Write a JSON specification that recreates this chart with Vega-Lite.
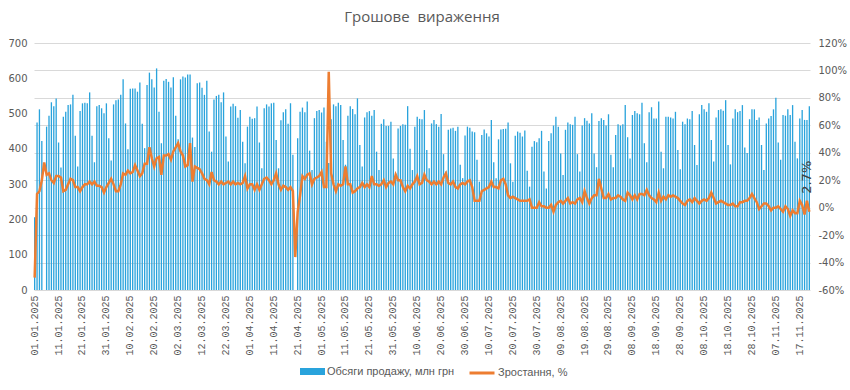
{
"$schema": "https://vega.github.io/schema/vega-lite/v6.json",
"width": 776, "height": 247,
"autosize": {"type": "none"},
"padding": {"left": 34, "top": 43, "right": 40, "bottom": 100},
"background": "white",
"title": {"text": "Грошове \u00a0вираження", "font": "Open Sans", "fontSize": 15, "fontWeight": "normal", "color": "#595959", "offset": 13, "anchor": "middle"},
"config": {"view": {"stroke": null}, "axis": {"labelFont": "DejaVu Sans", "labelFontSize": 10, "labelColor": "#595959", "ticks": false, "domain": false, "title": null}},
"data": {"values": [
{"d":"2025-01-01","v":206,"g":-51},{"d":"2025-01-02","v":475,"g":10},{"d":"2025-01-03","v":512,"g":12},{"d":"2025-01-04","v":422,"g":20},{"d":"2025-01-05","v":null,"g":33},{"d":"2025-01-06","v":463,"g":24},{"d":"2025-01-07","v":494,"g":25},{"d":"2025-01-08","v":532,"g":20},{"d":"2025-01-09","v":521,"g":18},{"d":"2025-01-10","v":543,"g":23},
{"d":"2025-01-11","v":418,"g":23},{"d":"2025-01-12","v":347,"g":22},{"d":"2025-01-13","v":491,"g":12},{"d":"2025-01-14","v":505,"g":13},{"d":"2025-01-15","v":524,"g":17},{"d":"2025-01-16","v":526,"g":21},{"d":"2025-01-17","v":553,"g":20},{"d":"2025-01-18","v":437,"g":15},{"d":"2025-01-19","v":350,"g":15},{"d":"2025-01-20","v":507,"g":12},
{"d":"2025-01-21","v":529,"g":15},{"d":"2025-01-22","v":531,"g":17},{"d":"2025-01-23","v":529,"g":17},{"d":"2025-01-24","v":560,"g":19},{"d":"2025-01-25","v":437,"g":17},{"d":"2025-01-26","v":362,"g":19},{"d":"2025-01-27","v":521,"g":16},{"d":"2025-01-28","v":524,"g":16},{"d":"2025-01-29","v":515,"g":15},{"d":"2025-01-30","v":501,"g":11},
{"d":"2025-01-31","v":529,"g":15},{"d":"2025-02-01","v":430,"g":18},{"d":"2025-02-02","v":367,"g":21},{"d":"2025-02-03","v":526,"g":17},{"d":"2025-02-04","v":538,"g":12},{"d":"2025-02-05","v":540,"g":12},{"d":"2025-02-06","v":553,"g":17},{"d":"2025-02-07","v":597,"g":25},{"d":"2025-02-08","v":472,"g":24},{"d":"2025-02-09","v":399,"g":27},
{"d":"2025-02-10","v":570,"g":25},{"d":"2025-02-11","v":571,"g":26},{"d":"2025-02-12","v":571,"g":31},{"d":"2025-02-13","v":562,"g":27},{"d":"2025-02-14","v":588,"g":23},{"d":"2025-02-15","v":471,"g":25},{"d":"2025-02-16","v":402,"g":32},{"d":"2025-02-17","v":581,"g":32},{"d":"2025-02-18","v":616,"g":44},{"d":"2025-02-19","v":597,"g":36},
{"d":"2025-02-20","v":574,"g":30},{"d":"2025-02-21","v":628,"g":36},{"d":"2025-02-22","v":505,"g":37},{"d":"2025-02-23","v":416,"g":24},{"d":"2025-02-24","v":593,"g":38},{"d":"2025-02-25","v":598,"g":38},{"d":"2025-02-26","v":590,"g":39},{"d":"2025-02-27","v":574,"g":35},{"d":"2025-02-28","v":603,"g":41},
{"d":"2025-03-01","v":494,"g":44},{"d":"2025-03-02","v":427,"g":47},{"d":"2025-03-03","v":597,"g":41},{"d":"2025-03-04","v":605,"g":38},{"d":"2025-03-05","v":602,"g":30},{"d":"2025-03-06","v":611,"g":31},{"d":"2025-03-07","v":611,"g":47},{"d":"2025-03-08","v":432,"g":19},{"d":"2025-03-09","v":405,"g":30},{"d":"2025-03-10","v":586,"g":29},
{"d":"2025-03-11","v":588,"g":28},{"d":"2025-03-12","v":573,"g":25},{"d":"2025-03-13","v":553,"g":21},{"d":"2025-03-14","v":593,"g":20},{"d":"2025-03-15","v":449,"g":17},{"d":"2025-03-16","v":392,"g":26},{"d":"2025-03-17","v":540,"g":20},{"d":"2025-03-18","v":550,"g":19},{"d":"2025-03-19","v":553,"g":17},{"d":"2025-03-20","v":532,"g":19},
{"d":"2025-03-21","v":560,"g":17},{"d":"2025-03-22","v":435,"g":18},{"d":"2025-03-23","v":364,"g":19},{"d":"2025-03-24","v":520,"g":17},{"d":"2025-03-25","v":528,"g":19},{"d":"2025-03-26","v":521,"g":17},{"d":"2025-03-27","v":488,"g":18},{"d":"2025-03-28","v":510,"g":17},{"d":"2025-03-29","v":420,"g":18},{"d":"2025-03-30","v":359,"g":23},
{"d":"2025-03-31","v":463,"g":14},{"d":"2025-04-01","v":491,"g":17},{"d":"2025-04-02","v":485,"g":17},{"d":"2025-04-03","v":487,"g":13},{"d":"2025-04-04","v":520,"g":17},{"d":"2025-04-05","v":418,"g":13},{"d":"2025-04-06","v":345,"g":17},{"d":"2025-04-07","v":515,"g":21},{"d":"2025-04-08","v":526,"g":22},{"d":"2025-04-09","v":520,"g":20},
{"d":"2025-04-10","v":529,"g":17},{"d":"2025-04-11","v":531,"g":20},{"d":"2025-04-12","v":425,"g":25},{"d":"2025-04-13","v":345,"g":17},{"d":"2025-04-14","v":481,"g":13},{"d":"2025-04-15","v":504,"g":16},{"d":"2025-04-16","v":512,"g":15},{"d":"2025-04-17","v":471,"g":13},{"d":"2025-04-18","v":529,"g":15},{"d":"2025-04-19","v":383,"g":12},
{"d":"2025-04-20","v":null,"g":-36},{"d":"2025-04-21","v":430,"g":-3},{"d":"2025-04-22","v":505,"g":9},{"d":"2025-04-23","v":517,"g":23},{"d":"2025-04-24","v":504,"g":21},{"d":"2025-04-25","v":534,"g":24},{"d":"2025-04-26","v":395,"g":25},{"d":"2025-04-27","v":340,"g":17},{"d":"2025-04-28","v":487,"g":21},{"d":"2025-04-29","v":507,"g":22},
{"d":"2025-04-30","v":510,"g":23},{"d":"2025-05-01","v":503,"g":26},{"d":"2025-05-02","v":517,"g":15},{"d":"2025-05-03","v":420,"g":15},{"d":"2025-05-04","v":360,"g":99},{"d":"2025-05-05","v":484,"g":25},{"d":"2025-05-06","v":526,"g":17},{"d":"2025-05-07","v":521,"g":12},{"d":"2025-05-08","v":531,"g":17},{"d":"2025-05-09","v":524,"g":16},
{"d":"2025-05-10","v":425,"g":17},{"d":"2025-05-11","v":355,"g":30},{"d":"2025-05-12","v":494,"g":17},{"d":"2025-05-13","v":521,"g":17},{"d":"2025-05-14","v":513,"g":11},{"d":"2025-05-15","v":498,"g":12},{"d":"2025-05-16","v":543,"g":14},{"d":"2025-05-17","v":411,"g":15},{"d":"2025-05-18","v":350,"g":18},{"d":"2025-05-19","v":489,"g":15},
{"d":"2025-05-20","v":504,"g":17},{"d":"2025-05-21","v":507,"g":15},{"d":"2025-05-22","v":494,"g":23},{"d":"2025-05-23","v":510,"g":17},{"d":"2025-05-24","v":392,"g":17},{"d":"2025-05-25","v":340,"g":16},{"d":"2025-05-26","v":471,"g":17},{"d":"2025-05-27","v":484,"g":20},{"d":"2025-05-28","v":465,"g":15},{"d":"2025-05-29","v":465,"g":18},
{"d":"2025-05-30","v":477,"g":19},{"d":"2025-05-31","v":373,"g":17},{"d":"2025-06-01","v":330,"g":24},{"d":"2025-06-02","v":458,"g":20},{"d":"2025-06-03","v":465,"g":20},{"d":"2025-06-04","v":470,"g":15},{"d":"2025-06-05","v":468,"g":12},{"d":"2025-06-06","v":521,"g":16},{"d":"2025-06-07","v":400,"g":14},{"d":"2025-06-08","v":340,"g":17},
{"d":"2025-06-09","v":463,"g":19},{"d":"2025-06-10","v":491,"g":23},{"d":"2025-06-11","v":485,"g":17},{"d":"2025-06-12","v":484,"g":18},{"d":"2025-06-13","v":510,"g":24},{"d":"2025-06-14","v":397,"g":20},{"d":"2025-06-15","v":345,"g":19},{"d":"2025-06-16","v":472,"g":17},{"d":"2025-06-17","v":482,"g":19},{"d":"2025-06-18","v":470,"g":17},
{"d":"2025-06-19","v":463,"g":19},{"d":"2025-06-20","v":499,"g":17},{"d":"2025-06-21","v":385,"g":22},{"d":"2025-06-22","v":336,"g":25},{"d":"2025-06-23","v":454,"g":18},{"d":"2025-06-24","v":458,"g":17},{"d":"2025-06-25","v":460,"g":19},{"d":"2025-06-26","v":451,"g":15},{"d":"2025-06-27","v":463,"g":14},{"d":"2025-06-28","v":355,"g":17},
{"d":"2025-06-29","v":317,"g":18},{"d":"2025-06-30","v":438,"g":17},{"d":"2025-07-01","v":463,"g":19},{"d":"2025-07-02","v":460,"g":20},{"d":"2025-07-03","v":449,"g":15},{"d":"2025-07-04","v":447,"g":5},{"d":"2025-07-05","v":369,"g":5},{"d":"2025-07-06","v":307,"g":5},{"d":"2025-07-07","v":439,"g":12},{"d":"2025-07-08","v":455,"g":13},
{"d":"2025-07-09","v":444,"g":14},{"d":"2025-07-10","v":435,"g":15},{"d":"2025-07-11","v":482,"g":19},{"d":"2025-07-12","v":362,"g":15},{"d":"2025-07-13","v":317,"g":15},{"d":"2025-07-14","v":427,"g":14},{"d":"2025-07-15","v":455,"g":20},{"d":"2025-07-16","v":456,"g":21},{"d":"2025-07-17","v":457,"g":17},{"d":"2025-07-18","v":475,"g":9},
{"d":"2025-07-19","v":359,"g":7},{"d":"2025-07-20","v":307,"g":8},{"d":"2025-07-21","v":437,"g":7},{"d":"2025-07-22","v":449,"g":6},{"d":"2025-07-23","v":446,"g":5},{"d":"2025-07-24","v":435,"g":5},{"d":"2025-07-25","v":452,"g":5},{"d":"2025-07-26","v":338,"g":5},{"d":"2025-07-27","v":293,"g":6},{"d":"2025-07-28","v":406,"g":0},
{"d":"2025-07-29","v":422,"g":0},{"d":"2025-07-30","v":419,"g":0},{"d":"2025-07-31","v":430,"g":4},{"d":"2025-08-01","v":451,"g":1},{"d":"2025-08-02","v":336,"g":1},{"d":"2025-08-03","v":288,"g":0},{"d":"2025-08-04","v":422,"g":0},{"d":"2025-08-05","v":444,"g":2},{"d":"2025-08-06","v":466,"g":-3},{"d":"2025-08-07","v":491,"g":2},
{"d":"2025-08-08","v":463,"g":4},{"d":"2025-08-09","v":387,"g":5},{"d":"2025-08-10","v":326,"g":3},{"d":"2025-08-11","v":454,"g":5},{"d":"2025-08-12","v":475,"g":7},{"d":"2025-08-13","v":470,"g":3},{"d":"2025-08-14","v":468,"g":4},{"d":"2025-08-15","v":491,"g":3},{"d":"2025-08-16","v":385,"g":6},{"d":"2025-08-17","v":336,"g":7},
{"d":"2025-08-18","v":466,"g":4},{"d":"2025-08-19","v":487,"g":12},{"d":"2025-08-20","v":480,"g":7},{"d":"2025-08-21","v":472,"g":3},{"d":"2025-08-22","v":501,"g":7},{"d":"2025-08-23","v":387,"g":9},{"d":"2025-08-24","v":348,"g":9},{"d":"2025-08-25","v":479,"g":21},{"d":"2025-08-26","v":487,"g":14},{"d":"2025-08-27","v":482,"g":7},
{"d":"2025-08-28","v":466,"g":7},{"d":"2025-08-29","v":498,"g":10},{"d":"2025-08-30","v":383,"g":6},{"d":"2025-08-31","v":348,"g":7},{"d":"2025-09-01","v":439,"g":7},{"d":"2025-09-02","v":470,"g":9},{"d":"2025-09-03","v":466,"g":8},{"d":"2025-09-04","v":470,"g":6},{"d":"2025-09-05","v":524,"g":5},{"d":"2025-09-06","v":433,"g":11},
{"d":"2025-09-07","v":373,"g":9},{"d":"2025-09-08","v":496,"g":6},{"d":"2025-09-09","v":507,"g":9},{"d":"2025-09-10","v":501,"g":6},{"d":"2025-09-11","v":498,"g":10},{"d":"2025-09-12","v":531,"g":10},{"d":"2025-09-13","v":416,"g":9},{"d":"2025-09-14","v":362,"g":13},{"d":"2025-09-15","v":504,"g":9},{"d":"2025-09-16","v":518,"g":7},
{"d":"2025-09-17","v":486,"g":6},{"d":"2025-09-18","v":486,"g":4},{"d":"2025-09-19","v":534,"g":11},{"d":"2025-09-20","v":392,"g":5},{"d":"2025-09-21","v":345,"g":8},{"d":"2025-09-22","v":491,"g":6},{"d":"2025-09-23","v":491,"g":9},{"d":"2025-09-24","v":489,"g":8},{"d":"2025-09-25","v":486,"g":9},{"d":"2025-09-26","v":505,"g":8},
{"d":"2025-09-27","v":397,"g":7},{"d":"2025-09-28","v":342,"g":5},{"d":"2025-09-29","v":477,"g":3},{"d":"2025-09-30","v":470,"g":2},{"d":"2025-10-01","v":486,"g":5},{"d":"2025-10-02","v":484,"g":6},{"d":"2025-10-03","v":507,"g":4},{"d":"2025-10-04","v":411,"g":7},{"d":"2025-10-05","v":354,"g":5},{"d":"2025-10-06","v":498,"g":3},
{"d":"2025-10-07","v":524,"g":5},{"d":"2025-10-08","v":512,"g":6},{"d":"2025-10-09","v":505,"g":5},{"d":"2025-10-10","v":529,"g":7},{"d":"2025-10-11","v":425,"g":11},{"d":"2025-10-12","v":364,"g":7},{"d":"2025-10-13","v":489,"g":3},{"d":"2025-10-14","v":510,"g":4},{"d":"2025-10-15","v":512,"g":5},{"d":"2025-10-16","v":508,"g":4},
{"d":"2025-10-17","v":538,"g":3},{"d":"2025-10-18","v":411,"g":2},{"d":"2025-10-19","v":356,"g":2},{"d":"2025-10-20","v":486,"g":3},{"d":"2025-10-21","v":512,"g":1},{"d":"2025-10-22","v":504,"g":1},{"d":"2025-10-23","v":507,"g":4},{"d":"2025-10-24","v":524,"g":4},{"d":"2025-10-25","v":404,"g":5},{"d":"2025-10-26","v":388,"g":5},
{"d":"2025-10-27","v":484,"g":7},{"d":"2025-10-28","v":512,"g":10},{"d":"2025-10-29","v":512,"g":7},{"d":"2025-10-30","v":482,"g":4},{"d":"2025-10-31","v":489,"g":-1},{"d":"2025-11-01","v":411,"g":1},{"d":"2025-11-02","v":340,"g":3},{"d":"2025-11-03","v":472,"g":3},{"d":"2025-11-04","v":486,"g":1},{"d":"2025-11-05","v":493,"g":-2},
{"d":"2025-11-06","v":512,"g":0},{"d":"2025-11-07","v":545,"g":0},{"d":"2025-11-08","v":418,"g":1},{"d":"2025-11-09","v":369,"g":-1},{"d":"2025-11-10","v":496,"g":-3},{"d":"2025-11-11","v":494,"g":1},{"d":"2025-11-12","v":512,"g":-1},{"d":"2025-11-13","v":496,"g":-6},{"d":"2025-11-14","v":524,"g":-2},{"d":"2025-11-15","v":420,"g":-4},
{"d":"2025-11-16","v":373,"g":-4},{"d":"2025-11-17","v":486,"g":5},{"d":"2025-11-18","v":510,"g":2},{"d":"2025-11-19","v":482,"g":-5},{"d":"2025-11-20","v":482,"g":5},{"d":"2025-11-21","v":521,"g":-3,"lbl":"2.7%"}
]},
"encoding": {
  "x": {"field": "d", "type": "ordinal", "scale": {"paddingInner": 0.45, "paddingOuter": 0},
    "axis": {"labelAngle": -90, "labelPadding": 5, "labelFont": "Liberation Mono", "labelFontSize": 10,
      "values": ["2025-01-01","2025-01-11","2025-01-21","2025-01-31","2025-02-10","2025-02-20","2025-03-02","2025-03-12","2025-03-22","2025-04-01","2025-04-11","2025-04-21","2025-05-01","2025-05-11","2025-05-21","2025-05-31","2025-06-10","2025-06-20","2025-06-30","2025-07-10","2025-07-20","2025-07-30","2025-08-09","2025-08-19","2025-08-29","2025-09-08","2025-09-18","2025-09-28","2025-10-08","2025-10-18","2025-10-28","2025-11-07","2025-11-17"],
      "labelExpr": "substring(datum.value,8,10)+'.'+substring(datum.value,5,7)+'.'+substring(datum.value,0,4)"}}
},
"layer": [
  {"mark": {"type": "bar"},
   "encoding": {
     "y": {"field": "v", "type": "quantitative", "scale": {"domain": [0, 700], "nice": false},
       "axis": {"orient": "left", "grid": false, "values": [0,100,200,300,400,500,600,700], "tickCount": 8, "labelOverlap": false, "labelPadding": 7}},
     "fill": {"datum": "Обсяги продажу, млн грн", "type": "nominal", "scale": {"range": ["#29a3dc"]},
       "legend": {"orient": "none", "legendX": 266, "legendY": 316, "title": null, "symbolType": "M-1,-0.28H1V0.28H-1Z", "symbolSize": 625, "symbolStrokeWidth": 0, "labelFont": "Liberation Sans", "labelFontSize": 11, "labelColor": "#595959", "labelOffset": 2}}
   }},
  {"layer": [
    {"mark": {"type": "line", "strokeWidth": 2.5, "interpolate": "linear"},
     "encoding": {
       "y": {"field": "g", "type": "quantitative", "scale": {"domain": [-60, 120], "nice": false},
         "axis": {"orient": "right", "grid": true, "gridColor": "#d9d9d9", "gridWidth": 1, "values": [-60,-40,-20,0,20,40,60,80,100,120], "tickCount": 10, "labelOverlap": false, "labelExpr": "datum.value + '%'", "labelPadding": 8}},
       "stroke": {"datum": "Зростання, %", "type": "nominal", "scale": {"range": ["#ed7d31"]},
         "legend": {"orient": "none", "legendX": 434, "legendY": 316, "title": null, "symbolType": "stroke", "symbolSize": 625, "symbolStrokeWidth": 3, "labelFont": "Liberation Sans", "labelFontSize": 11, "labelColor": "#595959", "labelOffset": 2}}
     }},
    {"transform": [{"filter": "isValid(datum.lbl)"}],
     "mark": {"type": "text", "angle": 270, "align": "left", "baseline": "middle", "dx": 18, "dy": -2, "font": "DejaVu Sans", "fontSize": 13, "color": "#404040"},
     "encoding": {"y": {"field": "g", "type": "quantitative"}, "text": {"field": "lbl", "type": "nominal"}}}
  ]}
],
"resolve": {"scale": {"y": "independent", "fill": "independent", "stroke": "independent"}}
}
